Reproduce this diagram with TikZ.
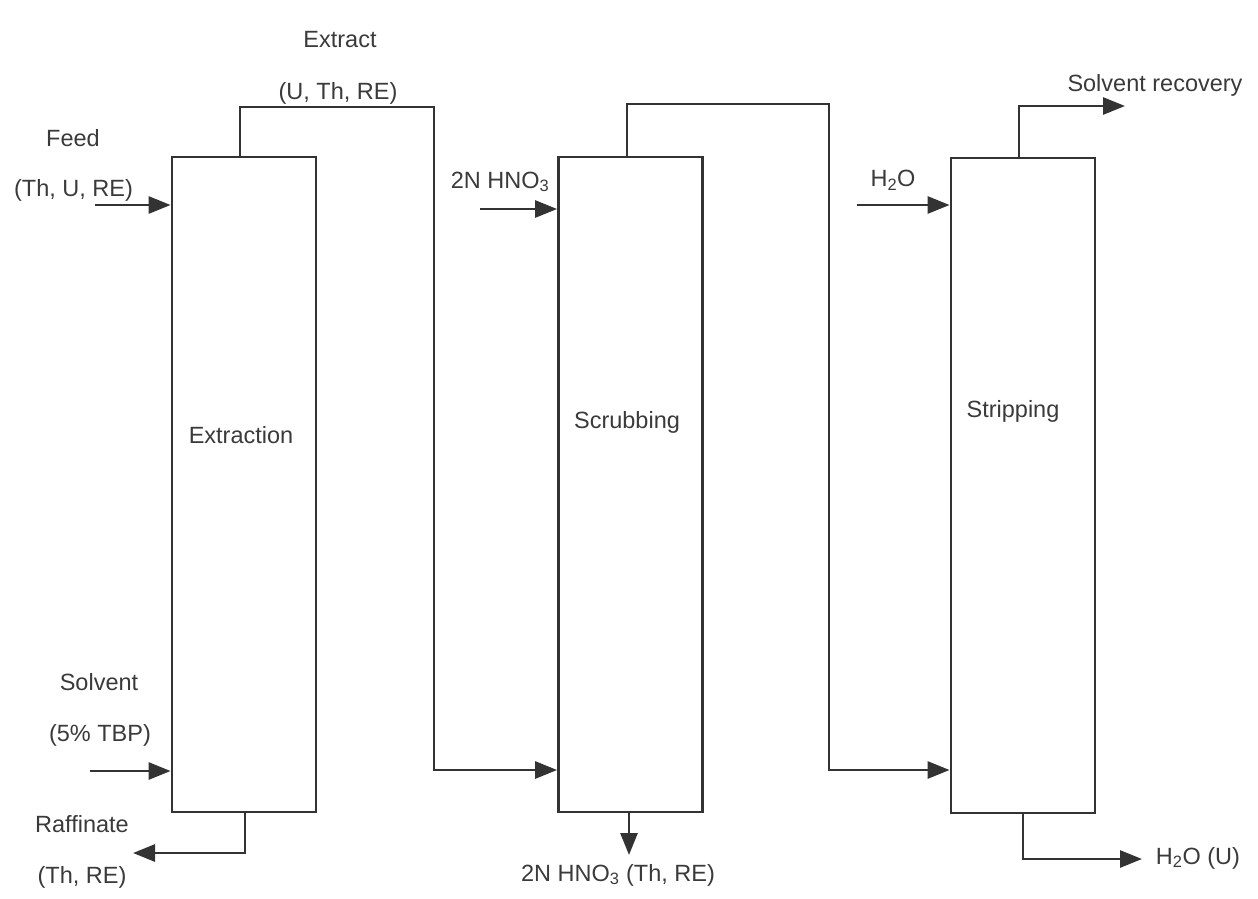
\documentclass[tikz,border=0pt]{standalone}
\usepackage{fontspec}
\setmainfont{Liberation Sans}
\usetikzlibrary{arrows.meta,calc}
\definecolor{ink}{HTML}{333333}
\definecolor{txt}{HTML}{3A3A3A}
\tikzset{
  column/.style={draw=ink, line width=2.8pt, minimum width=144pt, minimum height=655pt, inner sep=0pt},
  lbl/.style={text=txt, inner sep=0pt, font=\fontsize{23.5}{27}\selectfont},
  flow/.style={draw=ink, line width=2.8pt},
  arr/.style={flow, -{Triangle[length=22pt,width=17pt]}}
}
\begin{document}
\begin{tikzpicture}[x=1pt,y=-1pt]
\useasboundingbox (0,0) rectangle (1258,898);
% columns
\node[column] (ext) at (244,484.5) {};
\node[column] (scr) at (630.5,484.5) {};
\node[column] (str) at (1023,485.5) {};
% column labels
\node[lbl] (lext) at (241,435) {Extraction};
\node[lbl] (lscr) at (627,422) {Scrubbing};
\node[lbl] (lstr) at (1013,411) {Stripping};
% stream labels
\node[lbl] (tExtract) at (340,40) {Extract};
\node[lbl] (tExtract2) at (338,93) {(U, Th, RE)};
\node[lbl] (tFeed) at (73,138) {Feed};
\node[lbl] (tFeed2) at (73.5,190) {(Th, U, RE)};
\node[lbl] (tAcid) at (500,182) {2N HNO\textsubscript{3}};
\node[lbl] (tWater) at (893,180) {H\textsubscript{2}O};
\node[lbl] (tRec) at (1155,85) {Solvent recovery};
\node[lbl] (tSolv) at (99,682) {Solvent};
\node[lbl] (tSolv2) at (100,735) {(5\% TBP)};
\node[lbl] (tRaf) at (82,824) {Raffinate};
\node[lbl] (tRaf2) at (82,877) {(Th, RE)};
\node[lbl] (tScrOut) at (618,875) {2N HNO\textsubscript{3} (Th, RE)};
\node[lbl] (tStrOut) at (1198,858) {H\textsubscript{2}O (U)};
% coordinates
\coordinate (feedin) at (95,205);
\coordinate (solvin) at (90,771);
\coordinate (acidin) at (480,209);
\coordinate (waterin) at (857,205);
\coordinate (e1) at (240,107);
\coordinate (e2) at (434,770);
\coordinate (s1) at (627,104);
\coordinate (s2) at (829,770);
\coordinate (r1) at (245,853);
\coordinate (rend) at (133,853);
\coordinate (sout) at (629,855);
\coordinate (w1) at (1019,106);
\coordinate (wend) at (1125,106);
\coordinate (u1) at (1023,859);
\coordinate (uend) at (1142,859);
% feeds
\draw[arr] (feedin) -- (feedin -| ext.west);
\draw[arr] (solvin) -- (solvin -| ext.west);
\draw[arr] (acidin) -- (acidin -| scr.west);
\draw[arr] (waterin) -- (waterin -| str.west);
% extract to scrubbing
\draw[arr] (e1 |- ext.north) -- (e1) -| (e2) -- (e2 -| scr.west);
% scrubbed extract to stripping
\draw[arr] (s1 |- scr.north) -- (s1) -| (s2) -- (s2 -| str.west);
% raffinate
\draw[arr] (r1 |- ext.south) -- (r1) -- (rend);
% scrubbing out
\draw[arr] (sout |- scr.south) -- (sout);
% solvent recovery
\draw[arr] (w1 |- str.north) -- (w1) -- (wend);
% product
\draw[arr] (u1 |- str.south) -- (u1) -- (uend);
\end{tikzpicture}
\end{document}
